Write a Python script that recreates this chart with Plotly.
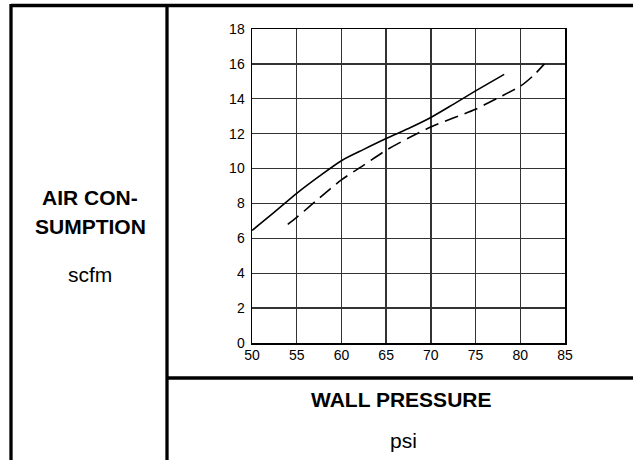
"""
Air consumption vs wall pressure chart, drawn as a boxed form figure.
"""

import plotly.graph_objects as go

# chart values
solid_x = [50, 52.5, 55, 57.5, 60, 62.5, 65, 67.5, 70, 72.5, 75, 78.2]
solid_y = [6.45, 7.5, 8.58, 9.55, 10.45, 11.1, 11.72, 12.3, 12.93, 13.68, 14.45, 15.4]

dashed_x = [54, 55, 57.5, 60, 62.5, 65, 67.5, 70, 72.5, 75, 77.5, 80, 81.5, 82.7]
dashed_y = [6.8, 7.2, 8.3, 9.35, 10.2, 11.05, 11.75, 12.38, 12.9, 13.4, 14.05, 14.72, 15.35, 16.0]

x_ticks = [50, 55, 60, 65, 70, 75, 80, 85]
y_ticks = [0, 2, 4, 6, 8, 10, 12, 14, 16, 18]

W, H = 633, 460
PLOT_L, PLOT_R, PLOT_T, PLOT_B = 252, 565, 29, 343
FONT = "Liberation Sans, Arial, sans-serif"


def px(x):
    """Pixel x to paper x."""
    return (x - PLOT_L) / (PLOT_R - PLOT_L)


def py(y):
    """Pixel y to paper y."""
    return (PLOT_B - y) / (PLOT_B - PLOT_T)


fig = go.Figure()

fig.add_trace(go.Scatter(
    x=solid_x, y=solid_y, mode="lines",
    line=dict(color="black", width=1.6, shape="spline", smoothing=0.8),
    hoverinfo="skip",
))
fig.add_trace(go.Scatter(
    x=dashed_x, y=dashed_y, mode="lines",
    line=dict(color="black", width=1.6, shape="spline", smoothing=0.8, dash="14px,7px"),
    hoverinfo="skip",
))

# frame lines of the form
frame = [
    (11, 5.5, 633, 5.5),
    (11, 4, 11, 460),
    (167, 4, 167, 460),
    (167, 378, 633, 378),
]
shapes = []
for x0, y0, x1, y1 in frame:
    shapes.append(dict(
        type="line", xref="paper", yref="paper",
        x0=px(x0), y0=py(y0), x1=px(x1), y1=py(y1),
        line=dict(color="black", width=3.3),
    ))

labels = [
    ("<b>AIR CON-</b>", 90, 197),
    ("<b>SUMPTION</b>", 90, 226),
    ("scfm", 89.5, 274),
    ("<b>WALL PRESSURE</b>", 401, 399.5),
    ("psi", 403, 440.5),
]
annotations = []
for text, x, y in labels:
    annotations.append(dict(
        text=text, xref="paper", yref="paper", x=px(x), y=py(y),
        xanchor="center", yanchor="middle", showarrow=False,
        font=dict(family=FONT, size=21, color="black"),
    ))

axis_common = dict(
    showgrid=True, gridcolor="#333333", gridwidth=1.3,
    showline=True, linecolor="black", linewidth=1.5, mirror=True,
    zeroline=False, ticks="", fixedrange=True,
    tickfont=dict(family=FONT, size=14, color="black"),
)

fig.update_layout(
    width=W, height=H,
    margin=dict(l=PLOT_L, r=W - PLOT_R, t=PLOT_T, b=H - PLOT_B, pad=0),
    paper_bgcolor="white", plot_bgcolor="white",
    showlegend=False,
    xaxis=dict(range=[50, 85], tickvals=x_ticks, ticklabelstandoff=-1, **axis_common),
    yaxis=dict(range=[0, 18], tickvals=y_ticks, ticklabelstandoff=3, **axis_common),
    shapes=shapes,
    annotations=annotations,
)

# drop the page's default body margin so the figure sits at the window corner
fig.write_html(
    "out.html",
    config={"displayModeBar": False, "staticPlot": True},
    post_script="document.body.style.margin='0';document.body.style.overflow='hidden';",
)
